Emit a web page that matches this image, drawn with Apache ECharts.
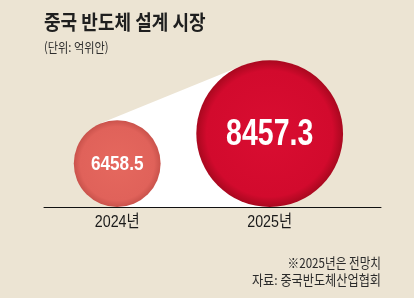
<!DOCTYPE html>
<html>
<head>
<meta charset="utf-8">
<script src="https://cdn.jsdelivr.net/npm/echarts@6/dist/echarts.min.js"></script>
<style>
html,body{margin:0;padding:0;background:#ece4d3;}
#chart{width:414px;height:298px;}
</style>
</head>
<body>
<div id="chart"></div>
<script>
// ---- data ----
const categories = ['2024년', '2025년'];
const values = [6458.5, 8457.3];
const valueLabels = ['6458.5', '8457.3'];
const titleText = '중국 반도체 설계 시장';
const unitText = '(단위: 억위안)';
const noteText = '※2025년은 전망치';
const sourceText = '자료: 중국반도체산업협회';

// ---- styles ----
const Y_MIN = 3560, Y_MAX = 9100;
const CJK = '"Noto Sans CJK KR", sans-serif';
const LAT = '"Liberation Sans", "Noto Sans CJK KR", sans-serif';
const labelSizes = [20, 37];
const labelScale = [0.86, 0.77];
const fills = [
  {type:'radial', x:0.5, y:0.5, r:0.5, colorStops:[{offset:0,color:'#e5685e'},{offset:0.85,color:'#e0625a'},{offset:1,color:'#c9524b'}]},
  {type:'radial', x:0.5, y:0.5, r:0.5, colorStops:[{offset:0,color:'#d90d31'},{offset:0.86,color:'#d20a2d'},{offset:1,color:'#a9081f'}]}
];

function circleOf(api, idx, val) {
  const top = api.coord([idx, val]);
  const base = api.coord([idx, Y_MIN]);
  const r = (base[1] - top[1]) / 2;
  return {cx: base[0], cy: base[1] - r, r: r, base: base[1]};
}

function txt(text, x, y, size, weight, color, align, sx) {
  return {type: 'text', x: x, y: y, scaleX: sx, silent: true,
    style: {text: text, x: 0, y: 0, fill: color, fontFamily: CJK, fontSize: size,
      fontWeight: weight, align: align, verticalAlign: 'middle'}};
}

const chart = echarts.init(document.getElementById('chart'), null, {renderer:'canvas'});
chart.setOption({
  backgroundColor: '#ece4d3',
  animation: false,
  graphic: [
    txt(titleText, 44, 22.5, 20.5, 'bold', '#1f1f1f', 'left', 0.88),
    txt(unitText, 44, 47.5, 13, 'normal', '#2e2e2e', 'left', 0.86),
    txt(noteText, 381, 263, 13.5, 'normal', '#2a2a2a', 'right', 0.86),
    txt(sourceText, 381, 280, 13.5, 'normal', '#2a2a2a', 'right', 0.9)
  ],
  grid: {left: 44, right: 33, top: 41, bottom: 91},
  xAxis: {
    type: 'value', min: -0.48, max: 1.73,
    axisLine: {show: true, onZero: false, lineStyle: {color: '#111', width: 1}},
    axisTick: {show: false}, axisLabel: {show: false}, splitLine: {show: false}
  },
  yAxis: {
    type: 'value', min: Y_MIN, max: Y_MAX, show: false,
    splitLine: {show: false}
  },
  series: [
    {
      type: 'custom', z: 1, silent: true,
      data: [[0, values[0], 1, values[1]]],
      renderItem: function (params, api) {
        const a = circleOf(api, api.value(0), api.value(1));
        const b = circleOf(api, api.value(2), api.value(3));
        const dx = b.cx - a.cx, dy = b.cy - a.cy;
        const D = Math.sqrt(dx*dx + dy*dy);
        const th = Math.atan2(dy, dx);
        const al = Math.acos((a.r - b.r) / D);
        let ang = th + al;
        if (Math.sin(ang) > 0) ang = th - al;
        const nx = Math.cos(ang), ny = Math.sin(ang);
        const p1 = [a.cx + a.r*nx, a.cy + a.r*ny];
        const p2 = [b.cx + b.r*nx, b.cy + b.r*ny];
        return {
          type: 'polygon',
          shape: {points: [p1, p2, [b.cx, b.base], [a.cx, a.base]]},
          style: {fill: '#ffffff'}
        };
      }
    },
    {
      type: 'custom', z: 2, silent: true,
      data: values.map((v, i) => [i, v]),
      renderItem: function (params, api) {
        const i = api.value(0);
        const c = circleOf(api, i, api.value(1));
        return {
          type: 'group',
          children: [
            {type: 'circle', shape: {cx: c.cx, cy: c.cy, r: c.r}, style: {fill: fills[i]}},
            {type: 'text', x: c.cx, y: c.cy + 1, scaleX: labelScale[i],
              style: {text: valueLabels[i], x: 0, y: 0, fill: '#ffffff',
              fontFamily: LAT, fontWeight: 'bold', fontSize: labelSizes[i], align: 'center', verticalAlign: 'middle'}},
            {type: 'text', x: c.cx, y: c.base + 15.5, scaleX: 0.84,
              style: {text: categories[i], x: 0, y: 0, fill: '#1a1a1a',
              fontFamily: LAT, fontWeight: 'normal', fontSize: 17, align: 'center', verticalAlign: 'middle'}}
          ]
        };
      }
    }
  ]
});
</script>
</body>
</html>
